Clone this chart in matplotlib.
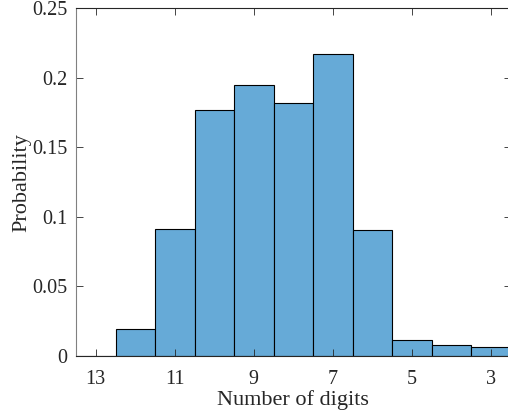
import matplotlib
matplotlib.use("Agg")
import matplotlib.pyplot as plt

# number of digits and probability of each
digits = [13, 12, 11, 10, 9, 8, 7, 6, 5, 4, 3]
prob = [0.0, 0.0196, 0.0912, 0.1767, 0.1947, 0.1818, 0.2175, 0.0905, 0.0113, 0.0077, 0.0062]
xticks = [13, 11, 9, 7, 5, 3]
yticks = [0, 0.05, 0.1, 0.15, 0.2, 0.25]
ytick_labels = ['0', '0.05', '0.1', '0.15', '0.2', '0.25']

plt.rcParams['font.family'] = ['Liberation Serif', 'DejaVu Serif']

fig = plt.figure(figsize=(5.08, 4.12), dpi=100)
ax = fig.add_axes([76/508, 1 - 356/412, (510.5 - 76)/508, (356 - 8.3)/412])

ax.bar(digits, prob, width=1.0, color='#66aad7', edgecolor='black', linewidth=0.8)

ax.set_xlim(13.5, 2.5)
ax.set_ylim(0, 0.25)
ax.set_xticks(xticks)
ax.set_yticks(yticks)
ax.set_yticklabels(ytick_labels)
ax.tick_params(direction='in', top=True, right=True, length=5, width=0.6,
               colors='#262626', labelsize=14.5)
ax.tick_params(axis='x', pad=10)
ax.tick_params(axis='y', pad=6)
for s in ax.spines.values():
    s.set_color('#262626')
    s.set_linewidth(0.8)
ax.spines['left'].set_color('#808080')

ax.set_xlabel('Number of digits', fontsize=16, labelpad=1, color='#262626')
ax.set_ylabel('Probability', fontsize=16, labelpad=1, color='#262626')

fig.savefig('out.png', dpi=100)
